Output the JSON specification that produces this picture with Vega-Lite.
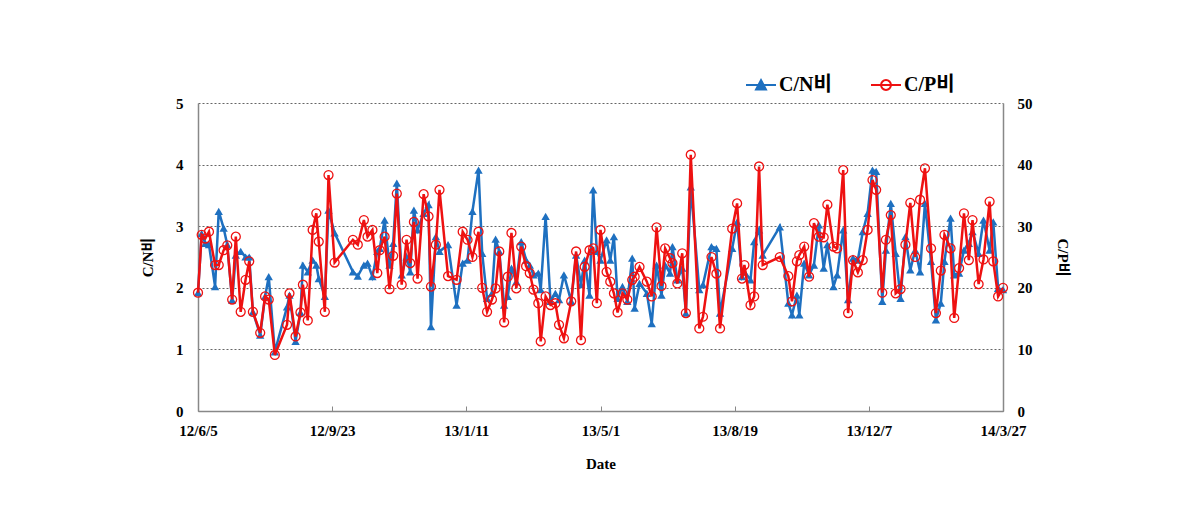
{
  "$schema": "https://vega.github.io/schema/vega-lite/v6.json",
  "width": 805,
  "height": 308,
  "autosize": {"type": "none"},
  "padding": {"left": 198, "top": 103, "right": 187, "bottom": 119},
  "background": "white",
  "config": {
    "view": {"stroke": null},
    "font": "Liberation Serif, Noto Sans CJK KR",
    "axis": {
      "labelFont": "Liberation Serif, Noto Sans CJK KR",
      "titleFont": "Liberation Serif, Noto Sans CJK KR",
      "labelFontSize": 15,
      "labelFontWeight": "bold",
      "labelColor": "black",
      "titleFontSize": 15,
      "titleFontWeight": "bold",
      "titleColor": "black",
      "domainColor": "#888888",
      "domainWidth": 1.5
    }
  },
  "data": {
    "values": [
      {"date": "2012-06-05", "cn": 1.92, "cp": 19.2},
      {"date": "2012-06-08", "cn": 2.88, "cp": 28.6},
      {"date": "2012-06-11", "cn": 2.72, "cp": 28.0},
      {"date": "2012-06-14", "cn": 2.70, "cp": 29.1},
      {"date": "2012-06-19", "cn": 2.02, "cp": 23.7},
      {"date": "2012-06-22", "cn": 3.24, "cp": 23.7},
      {"date": "2012-06-26", "cn": 2.97, "cp": 26.1},
      {"date": "2012-06-29", "cn": 2.70, "cp": 26.9},
      {"date": "2012-07-03", "cn": 1.80, "cp": 18.1},
      {"date": "2012-07-06", "cn": 2.53, "cp": 28.3},
      {"date": "2012-07-10", "cn": 2.59, "cp": 16.1},
      {"date": "2012-07-14", "cn": 2.50, "cp": 21.3},
      {"date": "2012-07-17", "cn": 2.50, "cp": 24.3},
      {"date": "2012-07-20", "cn": 1.61, "cp": 16.1},
      {"date": "2012-07-26", "cn": 1.23, "cp": 12.7},
      {"date": "2012-07-30", "cn": 1.86, "cp": 18.6},
      {"date": "2012-08-02", "cn": 2.18, "cp": 18.1},
      {"date": "2012-08-07", "cn": 0.96, "cp": 9.1},
      {"date": "2012-08-17", "cn": 1.69, "cp": 14.0},
      {"date": "2012-08-19", "cn": 1.88, "cp": 19.1},
      {"date": "2012-08-24", "cn": 1.13, "cp": 12.1},
      {"date": "2012-08-28", "cn": 1.60, "cp": 16.0},
      {"date": "2012-08-30", "cn": 2.37, "cp": 20.5},
      {"date": "2012-09-03", "cn": 2.26, "cp": 14.7},
      {"date": "2012-09-07", "cn": 2.45, "cp": 29.4},
      {"date": "2012-09-10", "cn": 2.37, "cp": 32.1},
      {"date": "2012-09-12", "cn": 2.15, "cp": 27.5},
      {"date": "2012-09-17", "cn": 1.86, "cp": 16.1},
      {"date": "2012-09-20", "cn": 3.26, "cp": 38.3},
      {"date": "2012-09-25", "cn": 2.89, "cp": 24.1},
      {"date": "2012-10-10", "cn": 2.26, "cp": 27.8},
      {"date": "2012-10-14", "cn": 2.19, "cp": 27.0},
      {"date": "2012-10-19", "cn": 2.37, "cp": 31.0},
      {"date": "2012-10-22", "cn": 2.40, "cp": 28.3},
      {"date": "2012-10-26", "cn": 2.18, "cp": 29.4},
      {"date": "2012-10-30", "cn": 2.59, "cp": 22.4},
      {"date": "2012-11-01", "cn": 2.64, "cp": 26.1},
      {"date": "2012-11-05", "cn": 3.10, "cp": 28.3},
      {"date": "2012-11-09", "cn": 2.37, "cp": 19.8},
      {"date": "2012-11-12", "cn": 2.72, "cp": 25.2},
      {"date": "2012-11-15", "cn": 3.70, "cp": 35.3},
      {"date": "2012-11-19", "cn": 2.21, "cp": 20.5},
      {"date": "2012-11-23", "cn": 2.50, "cp": 27.8},
      {"date": "2012-11-26", "cn": 2.26, "cp": 24.0},
      {"date": "2012-11-29", "cn": 3.26, "cp": 30.7},
      {"date": "2012-12-02", "cn": 2.94, "cp": 21.5},
      {"date": "2012-12-07", "cn": 3.21, "cp": 35.2},
      {"date": "2012-12-11", "cn": 3.35, "cp": 31.6},
      {"date": "2012-12-13", "cn": 1.37, "cp": 20.2},
      {"date": "2012-12-17", "cn": 2.83, "cp": 27.0},
      {"date": "2012-12-20", "cn": 2.59, "cp": 35.9},
      {"date": "2012-12-27", "cn": 2.70, "cp": 21.9},
      {"date": "2013-01-03", "cn": 1.72, "cp": 21.3},
      {"date": "2013-01-08", "cn": 2.40, "cp": 29.1},
      {"date": "2013-01-12", "cn": 2.45, "cp": 27.8},
      {"date": "2013-01-16", "cn": 3.24, "cp": 25.0},
      {"date": "2013-01-21", "cn": 3.91, "cp": 29.1},
      {"date": "2013-01-24", "cn": 2.56, "cp": 20.0},
      {"date": "2013-01-28", "cn": 1.83, "cp": 16.1},
      {"date": "2013-02-01", "cn": 1.91, "cp": 18.1},
      {"date": "2013-02-04", "cn": 2.79, "cp": 19.9},
      {"date": "2013-02-07", "cn": 2.59, "cp": 25.9},
      {"date": "2013-02-11", "cn": 1.72, "cp": 14.4},
      {"date": "2013-02-14", "cn": 1.86, "cp": 21.8},
      {"date": "2013-02-17", "cn": 2.32, "cp": 28.9},
      {"date": "2013-02-21", "cn": 2.10, "cp": 19.9},
      {"date": "2013-02-25", "cn": 2.75, "cp": 26.7},
      {"date": "2013-03-01", "cn": 2.45, "cp": 23.5},
      {"date": "2013-03-04", "cn": 2.37, "cp": 22.4},
      {"date": "2013-03-07", "cn": 2.21, "cp": 19.7},
      {"date": "2013-03-11", "cn": 2.24, "cp": 17.5},
      {"date": "2013-03-13", "cn": 1.97, "cp": 11.3},
      {"date": "2013-03-17", "cn": 3.16, "cp": 18.6},
      {"date": "2013-03-21", "cn": 1.78, "cp": 17.2},
      {"date": "2013-03-25", "cn": 1.91, "cp": 17.5},
      {"date": "2013-03-28", "cn": 1.81, "cp": 14.0},
      {"date": "2013-04-01", "cn": 2.21, "cp": 11.8},
      {"date": "2013-04-07", "cn": 1.78, "cp": 17.8},
      {"date": "2013-04-11", "cn": 2.53, "cp": 25.9},
      {"date": "2013-04-15", "cn": 2.05, "cp": 11.5},
      {"date": "2013-04-18", "cn": 2.45, "cp": 23.4},
      {"date": "2013-04-22", "cn": 1.88, "cp": 26.1},
      {"date": "2013-04-25", "cn": 3.59, "cp": 26.4},
      {"date": "2013-04-28", "cn": 2.59, "cp": 17.5},
      {"date": "2013-05-01", "cn": 2.45, "cp": 29.4},
      {"date": "2013-05-06", "cn": 2.78, "cp": 22.6},
      {"date": "2013-05-09", "cn": 2.45, "cp": 21.0},
      {"date": "2013-05-12", "cn": 2.83, "cp": 19.1},
      {"date": "2013-05-15", "cn": 1.83, "cp": 16.0},
      {"date": "2013-05-19", "cn": 2.02, "cp": 19.1},
      {"date": "2013-05-23", "cn": 1.78, "cp": 18.1},
      {"date": "2013-05-27", "cn": 2.48, "cp": 21.3},
      {"date": "2013-05-29", "cn": 1.67, "cp": 21.8},
      {"date": "2013-06-02", "cn": 2.07, "cp": 23.4},
      {"date": "2013-06-08", "cn": 1.91, "cp": 21.0},
      {"date": "2013-06-12", "cn": 1.42, "cp": 18.6},
      {"date": "2013-06-16", "cn": 2.37, "cp": 29.8},
      {"date": "2013-06-20", "cn": 1.88, "cp": 20.3},
      {"date": "2013-06-23", "cn": 2.37, "cp": 26.4},
      {"date": "2013-06-27", "cn": 2.24, "cp": 24.8},
      {"date": "2013-06-29", "cn": 2.67, "cp": 24.0},
      {"date": "2013-07-03", "cn": 2.13, "cp": 20.7},
      {"date": "2013-07-07", "cn": 2.32, "cp": 25.6},
      {"date": "2013-07-10", "cn": 1.59, "cp": 15.9},
      {"date": "2013-07-14", "cn": 3.64, "cp": 41.6},
      {"date": "2013-07-21", "cn": 1.97, "cp": 13.4},
      {"date": "2013-07-24", "cn": 2.05, "cp": 15.3},
      {"date": "2013-07-31", "cn": 2.67, "cp": 25.0},
      {"date": "2013-08-04", "cn": 2.64, "cp": 22.3},
      {"date": "2013-08-07", "cn": 1.59, "cp": 13.4},
      {"date": "2013-08-17", "cn": 2.64, "cp": 29.6},
      {"date": "2013-08-21", "cn": 3.07, "cp": 33.7},
      {"date": "2013-08-25", "cn": 2.18, "cp": 21.5},
      {"date": "2013-08-27", "cn": 2.26, "cp": 23.7},
      {"date": "2013-09-01", "cn": 2.13, "cp": 17.2},
      {"date": "2013-09-04", "cn": 2.75, "cp": 18.6},
      {"date": "2013-09-08", "cn": 2.94, "cp": 39.7},
      {"date": "2013-09-11", "cn": 2.53, "cp": 23.7},
      {"date": "2013-09-25", "cn": 2.99, "cp": 25.0},
      {"date": "2013-10-02", "cn": 1.75, "cp": 21.9},
      {"date": "2013-10-05", "cn": 1.56, "cp": 17.8},
      {"date": "2013-10-09", "cn": 1.88, "cp": 24.3},
      {"date": "2013-10-11", "cn": 1.56, "cp": 25.3},
      {"date": "2013-10-15", "cn": 2.40, "cp": 26.7},
      {"date": "2013-10-19", "cn": 2.21, "cp": 21.8},
      {"date": "2013-10-23", "cn": 2.37, "cp": 30.5},
      {"date": "2013-10-27", "cn": 3.02, "cp": 28.3},
      {"date": "2013-10-31", "cn": 2.32, "cp": 28.2},
      {"date": "2013-11-03", "cn": 2.70, "cp": 33.5},
      {"date": "2013-11-08", "cn": 2.02, "cp": 26.7},
      {"date": "2013-11-11", "cn": 2.21, "cp": 26.4},
      {"date": "2013-11-16", "cn": 2.94, "cp": 39.1},
      {"date": "2013-11-20", "cn": 1.81, "cp": 15.9},
      {"date": "2013-11-24", "cn": 2.48, "cp": 24.5},
      {"date": "2013-11-28", "cn": 2.45, "cp": 22.5},
      {"date": "2013-12-02", "cn": 2.91, "cp": 24.5},
      {"date": "2013-12-06", "cn": 3.21, "cp": 29.4},
      {"date": "2013-12-10", "cn": 3.91, "cp": 37.5},
      {"date": "2013-12-13", "cn": 3.89, "cp": 35.9},
      {"date": "2013-12-18", "cn": 1.78, "cp": 19.2},
      {"date": "2013-12-21", "cn": 2.61, "cp": 27.8},
      {"date": "2013-12-25", "cn": 3.37, "cp": 31.8},
      {"date": "2013-12-29", "cn": 2.56, "cp": 19.1},
      {"date": "2014-01-02", "cn": 1.83, "cp": 19.8},
      {"date": "2014-01-06", "cn": 2.83, "cp": 27.0},
      {"date": "2014-01-10", "cn": 2.29, "cp": 33.8},
      {"date": "2014-01-14", "cn": 2.61, "cp": 25.0},
      {"date": "2014-01-18", "cn": 2.26, "cp": 34.3},
      {"date": "2014-01-22", "cn": 3.37, "cp": 39.4},
      {"date": "2014-01-27", "cn": 2.43, "cp": 26.4},
      {"date": "2014-01-31", "cn": 1.48, "cp": 15.9},
      {"date": "2014-02-04", "cn": 1.75, "cp": 22.8},
      {"date": "2014-02-07", "cn": 2.43, "cp": 28.6},
      {"date": "2014-02-12", "cn": 3.13, "cp": 26.4},
      {"date": "2014-02-15", "cn": 2.21, "cp": 15.1},
      {"date": "2014-02-19", "cn": 2.24, "cp": 23.2},
      {"date": "2014-02-23", "cn": 2.61, "cp": 32.1},
      {"date": "2014-02-27", "cn": 2.72, "cp": 24.5},
      {"date": "2014-03-02", "cn": 2.91, "cp": 31.0},
      {"date": "2014-03-07", "cn": 2.56, "cp": 20.6},
      {"date": "2014-03-11", "cn": 3.10, "cp": 24.6},
      {"date": "2014-03-16", "cn": 2.61, "cp": 34.0},
      {"date": "2014-03-19", "cn": 3.07, "cp": 24.3},
      {"date": "2014-03-23", "cn": 1.99, "cp": 18.6},
      {"date": "2014-03-27", "cn": 1.97, "cp": 20.0}
    ]
  },
  "encoding": {
    "x": {
      "field": "date",
      "type": "temporal",
      "title": "Date",
      "scale": {
        "type": "utc",
        "domain": [
          {"year": 2012, "month": 6, "date": 5, "utc": true},
          {"year": 2014, "month": 3, "date": 27, "utc": true}
        ]
      },
      "axis": {
        "values": [
          {"year": 2012, "month": 6, "date": 5, "utc": true},
          {"year": 2012, "month": 9, "date": 23, "utc": true},
          {"year": 2013, "month": 1, "date": 11, "utc": true},
          {"year": 2013, "month": 5, "date": 1, "utc": true},
          {"year": 2013, "month": 8, "date": 19, "utc": true},
          {"year": 2013, "month": 12, "date": 7, "utc": true},
          {"year": 2014, "month": 3, "date": 27, "utc": true}
        ],
        "labelExpr": "utcFormat(datum.value, '%y/%-m/%-d')",
        "labelFlush": false,
        "labelOverlap": false,
        "grid": false,
        "ticks": true,
        "tickSize": -5,
        "tickColor": "#888888",
        "labelPadding": 17,
        "titleY": 52,
        "titleBaseline": "middle"
      }
    }
  },
  "layer": [
    {
      "layer": [
        {
          "mark": {"type": "line", "strokeWidth": 2.5},
          "encoding": {
            "y": {
              "field": "cn",
              "type": "quantitative",
              "title": "C/N비",
              "scale": {"domain": [0, 5]},
              "axis": {
                "orient": "left",
                "values": [0, 1, 2, 3, 4, 5],
                "format": "d",
                "ticks": false,
                "labelPadding": 15,
                "grid": true,
                "gridColor": "#666666",
                "gridDash": [2, 2],
                "gridWidth": 1,
                "titleX": -51,
                "titleY": 154,
                "titleBaseline": "middle",
                "titleAngle": -90
              }
            },
            "color": {
              "datum": "C/N비",
              "scale": {"domain": ["C/N비", "C/P비"], "range": ["#1E70C0", "#EE1111"]},
              "legend": {
                "orient": "none",
                "legendX": 547,
                "legendY": -34,
                "direction": "horizontal",
                "title": null,
                "padding": 0,
                "symbolSize": 900,
                "symbolStrokeWidth": 2,
                "labelFont": "Liberation Serif, Noto Sans CJK KR",
                "labelFontSize": 20,
                "labelFontWeight": "bold",
                "labelColor": "black",
                "labelOffset": 2,
                "columnPadding": 35,
                "encode": {
                  "symbols": {
                    "update": {
                      "shape": {"signal": "datum.index === 0 ? 'M-1,0H1M-0.33,0.3L0,-0.33L0.33,0.3Z' : 'M-1,0H1M0.33,0A0.33,0.33 0 1 1 -0.33,0A0.33,0.33 0 1 1 0.33,0'"},
                      "fillOpacity": {"signal": "datum.index === 0 ? 1 : 0"},
                      "opacity": {"value": 1}
                    }
                  }
                }
              }
            }
          }
        },
        {
          "mark": {"type": "point", "shape": "triangle-up", "filled": true, "size": 70, "opacity": 1},
          "encoding": {
            "y": {"field": "cn", "type": "quantitative"},
            "color": {"datum": "C/N비"}
          }
        }
      ]
    },
    {
      "layer": [
        {
          "mark": {"type": "line", "strokeWidth": 2.5},
          "encoding": {
            "y": {
              "field": "cp",
              "type": "quantitative",
              "title": "C/P비",
              "scale": {"domain": [0, 50]},
              "axis": {
                "orient": "right",
                "values": [0, 10, 20, 30, 40, 50],
                "format": "d",
                "ticks": false,
                "labelPadding": 14,
                "grid": false,
                "titleX": 59,
                "titleY": 154,
                "titleBaseline": "middle",
                "titleAngle": 90
              }
            },
            "color": {"datum": "C/P비"}
          }
        },
        {
          "mark": {"type": "point", "shape": "circle", "filled": false, "size": 80, "strokeWidth": 1.3, "opacity": 1},
          "encoding": {
            "y": {"field": "cp", "type": "quantitative"},
            "color": {"datum": "C/P비"}
          }
        }
      ]
    }
  ],
  "resolve": {"scale": {"y": "independent"}}
}
